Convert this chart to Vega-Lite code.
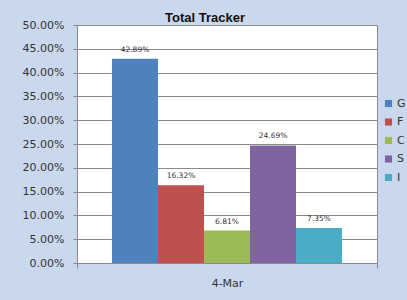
{
  "$schema": "https://vega.github.io/schema/vega-lite/v6.json",
  "width": 300,
  "height": 238,
  "autosize": {"type": "none"},
  "padding": {"left": 77, "top": 25, "right": 30, "bottom": 37},
  "background": "#c9d8ec",
  "title": {
    "text": "Total Tracker",
    "fontSize": 13,
    "font": "Liberation Sans",
    "fontWeight": "bold",
    "color": "#111111",
    "anchor": "middle",
    "dx": -22,
    "dy": 18,
    "offset": -1,
    "baseline": "bottom"
  },
  "config": {
    "view": {"fill": "white", "stroke": "#8a8a8a", "strokeWidth": 1},
    "font": "DejaVu Sans"
  },
  "data": {
    "values": [
      {"date": "4-Mar", "series": "G", "value": 0.4289, "label": "42.89%"},
      {"date": "4-Mar", "series": "F", "value": 0.1632, "label": "16.32%"},
      {"date": "4-Mar", "series": "C", "value": 0.0681, "label": "6.81%"},
      {"date": "4-Mar", "series": "S", "value": 0.2469, "label": "24.69%"},
      {"date": "4-Mar", "series": "I", "value": 0.0735, "label": "7.35%"}
    ]
  },
  "encoding": {
    "x": {
      "field": "date",
      "type": "nominal",
      "scale": {"paddingInner": 0, "paddingOuter": 0},
      "axis": {
        "title": null,
        "labelAngle": 0,
        "labelFontSize": 11,
        "labelColor": "#333333",
        "labelPadding": 9,
        "domainColor": "#8a8a8a",
        "tickColor": "#8a8a8a",
        "tickBand": "extent",
        "tickSize": 5
      }
    },
    "xOffset": {
      "field": "series",
      "type": "nominal",
      "sort": ["G", "F", "C", "S", "I"],
      "scale": {"paddingInner": 0, "paddingOuter": 0.76}
    },
    "y": {
      "field": "value",
      "type": "quantitative",
      "scale": {"domain": [0, 0.5], "nice": false},
      "axis": {
        "title": null,
        "format": ".2%",
        "values": [0, 0.05, 0.1, 0.15, 0.2, 0.25, 0.3, 0.35, 0.4, 0.45, 0.5],
        "labelFontSize": 11,
        "labelColor": "#333333",
        "labelPadding": 9,
        "gridColor": "#8a8a8a",
        "domainColor": "#8a8a8a",
        "tickColor": "#8a8a8a",
        "tickSize": 4
      }
    }
  },
  "layer": [
    {
      "mark": {"type": "bar"},
      "encoding": {
        "color": {
          "field": "series",
          "type": "nominal",
          "sort": ["G", "F", "C", "S", "I"],
          "scale": {
            "domain": ["G", "F", "C", "S", "I"],
            "range": ["#4f81bd", "#c0504d", "#9bbb59", "#8064a2", "#4bacc6"]
          },
          "legend": {
            "title": null,
            "orient": "none",
            "legendX": 306,
            "legendY": 73,
            "symbolType": "square",
            "symbolSize": 50,
            "symbolStrokeWidth": 0,
            "labelFontSize": 11,
            "labelColor": "#333333",
            "rowPadding": 6.5,
            "labelOffset": 3
          }
        }
      }
    },
    {
      "mark": {"type": "text", "dy": -9, "fontSize": 7.5, "color": "#333333"},
      "encoding": {"text": {"field": "label"}}
    }
  ]
}
